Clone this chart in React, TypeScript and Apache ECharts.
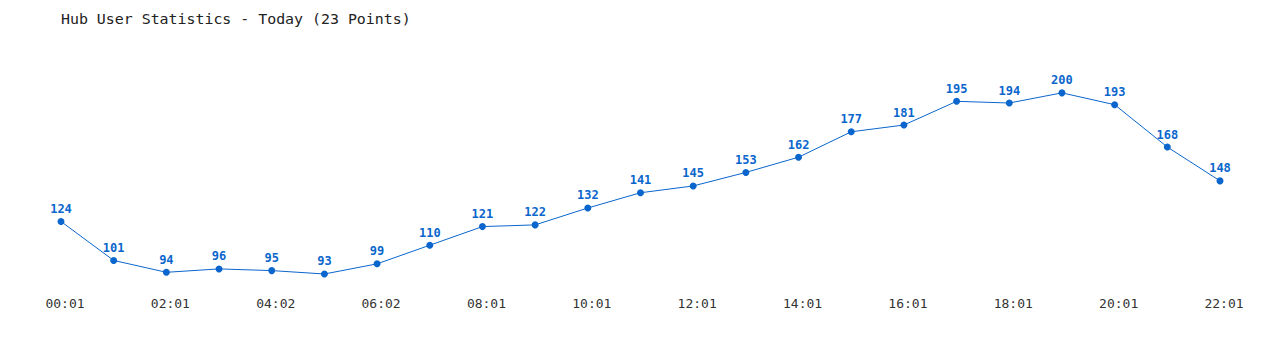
import React, { useEffect, useRef } from "react";
import * as echarts from "echarts";

const categories = [
  "00:01", "01:01", "02:01", "03:01", "04:02", "05:02", "06:02", "07:01",
  "08:01", "09:01", "10:01", "11:01", "12:01", "13:01", "14:01", "15:01",
  "16:01", "17:01", "18:01", "19:01", "20:01", "21:01", "22:01",
];
const users = [
  124, 101, 94, 96, 95, 93, 99, 110, 121, 122, 132, 141, 145, 153, 162, 177,
  181, 195, 194, 200, 193, 168, 148,
];
const titleText = "Hub User Statistics - Today (23 Points)";

export default function App() {
  const ref = useRef<HTMLDivElement>(null);
  useEffect(() => {
    if (!ref.current) return;
    const chart = echarts.init(ref.current, null, { renderer: "svg" });
    chart.setOption({
      animation: false,
      backgroundColor: "#ffffff",
      title: {
        text: titleText,
        left: 56,
        top: 6,
        textStyle: {
          fontFamily: "DejaVu Sans Mono",
          fontSize: 14.9,
          fontWeight: "normal",
          color: "#222222",
        },
      },
      grid: { left: 61, right: 60, top: 59, height: 237 },
      xAxis: {
        type: "category",
        data: categories,
        boundaryGap: false,
        axisLine: { show: false },
        axisTick: { show: false },
        axisLabel: {
          interval: 1,
          margin: 1,
          padding: [0, 0, 0, 8],
          fontFamily: "DejaVu Sans Mono",
          fontSize: 13,
          color: "#333333",
        },
      },
      yAxis: {
        type: "value",
        min: 80,
        max: 220,
        show: false,
        splitLine: { show: false },
      },
      series: [
        {
          type: "line",
          data: users,
          color: "#0a66cc",
          lineStyle: { width: 1, color: "#0a66cc" },
          symbol: "circle",
          symbolSize: 7,
          itemStyle: { color: "#0a66cc" },
          label: {
            show: true,
            position: "top",
            distance: 3,
            fontFamily: "DejaVu Sans Mono",
            fontSize: 12,
            fontWeight: "bold",
            color: "#0a66cc",
          },
        },
      ],
    });
    return () => chart.dispose();
  }, []);
  return (
    <div
      ref={ref}
      style={{ position: "fixed", left: 0, top: 0, width: 1280, height: 350 }}
    />
  );
}
